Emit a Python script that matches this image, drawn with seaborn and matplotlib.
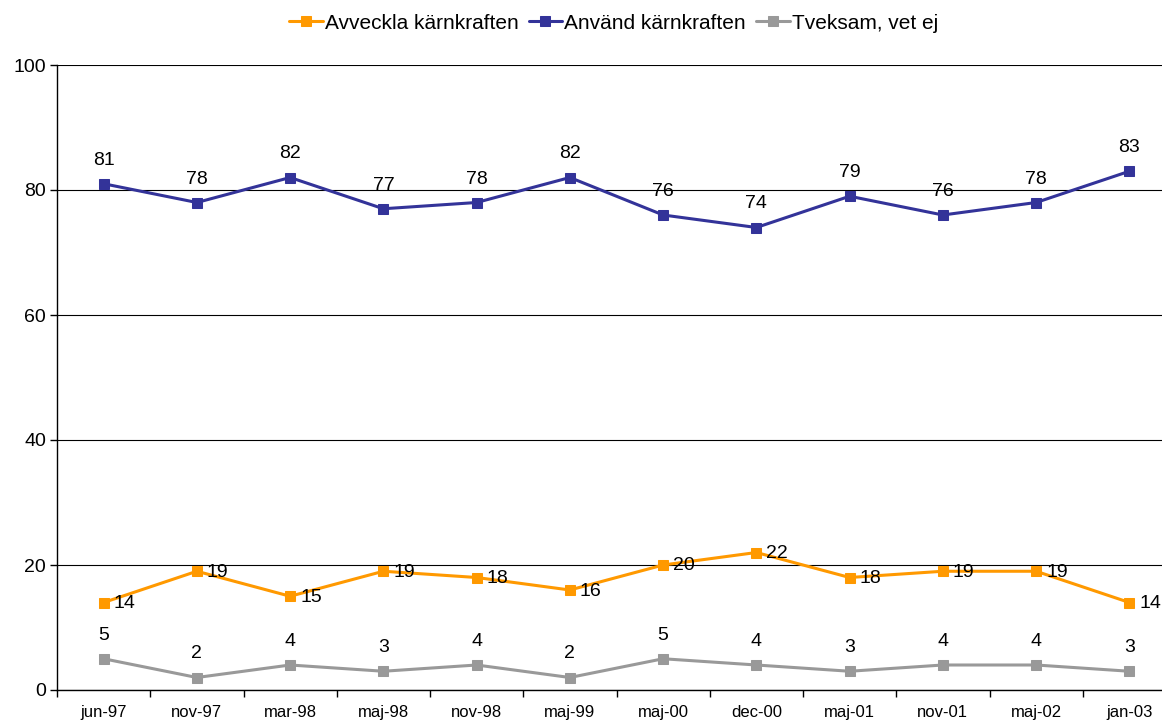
import matplotlib
matplotlib.use("Agg")
import matplotlib.pyplot as plt
import seaborn as sns
import numpy as np

# Data
periods = ['jun-97', 'nov-97', 'mar-98', 'maj-98', 'nov-98', 'maj-99',
           'maj-00', 'dec-00', 'maj-01', 'nov-01', 'maj-02', 'jan-03']
avveckla = [14, 19, 15, 19, 18, 16, 20, 22, 18, 19, 19, 14]
anvand = [81, 78, 82, 77, 78, 82, 76, 74, 79, 76, 78, 83]
tveksam = [5, 2, 4, 3, 4, 2, 5, 4, 3, 4, 4, 3]

series_names = ['Avveckla kärnkraften', 'Använd kärnkraften', 'Tveksam, vet ej']
series_values = [avveckla, anvand, tveksam]
series_colors = ['#FF9900', '#333399', '#999999']

sns.set_style("white")
plt.rcParams['font.family'] = ['Liberation Sans', 'DejaVu Sans']
plt.rcParams['text.color'] = 'black'
plt.rcParams['xtick.color'] = 'black'
plt.rcParams['ytick.color'] = 'black'

fig = plt.figure(figsize=(11.62, 7.21), dpi=100)
ax = fig.add_axes([57 / 1162, 31 / 721, (1176 - 57) / 1162, 625 / 721])

x = np.arange(len(periods))
for name, vals, col in zip(series_names, series_values, series_colors):
    sns.lineplot(x=x, y=vals, ax=ax, color=col, marker='s', markersize=7.5,
                 markeredgecolor=col, linewidth=2.2, label=name)

# data labels
for i, v in enumerate(anvand):
    ax.annotate(str(v), (i, v), xytext=(0, 19), textcoords='offset pixels',
                ha='center', va='baseline', fontsize=14, color='black')
for i, v in enumerate(tveksam):
    ax.annotate(str(v), (i, v), xytext=(0, 19), textcoords='offset pixels',
                ha='center', va='baseline', fontsize=14, color='black')
for i, v in enumerate(avveckla):
    ax.annotate(str(v), (i, v), xytext=(10, -1), textcoords='offset pixels',
                ha='left', va='center', fontsize=14, color='black')

ax.set_xlim(-0.5, len(periods) - 0.5)
ax.set_ylim(0, 100)
ax.set_yticks([0, 20, 40, 60, 80, 100])
ax.tick_params(axis='y', labelsize=14, length=5, width=1, direction='out', left=True, pad=3)
ax.yaxis.grid(True, color='black', linewidth=0.8)
ax.set_axisbelow(True)

# category ticks between labels, labels at centers
ax.set_xticks(np.arange(len(periods) + 1) - 0.5)
ax.set_xticklabels([])
ax.set_xticks(x, minor=True)
ax.set_xticklabels(periods, minor=True, fontsize=12)
ax.tick_params(axis='x', which='major', length=5, width=1, direction='out', bottom=True)
ax.tick_params(axis='x', which='minor', length=0, pad=11)

for s in ['top', 'right']:
    ax.spines[s].set_visible(False)
for s in ['left', 'bottom']:
    ax.spines[s].set_color('black')
    ax.spines[s].set_linewidth(1)

leg = ax.legend(loc='upper center', bbox_to_anchor=(0.528, 1.0), bbox_transform=fig.transFigure,
                ncol=3, frameon=False, fontsize=15, handlelength=1.6, handletextpad=0.1,
                columnspacing=0.5, borderaxespad=0.25)
for t in leg.get_texts():
    t.set_color('black')

fig.savefig('out.png', dpi=100)
